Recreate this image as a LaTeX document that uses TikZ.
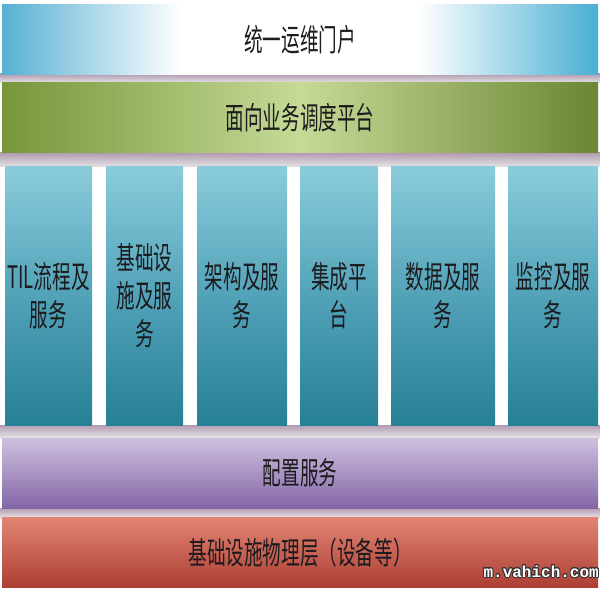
\documentclass[tikz,border=0pt]{standalone}
\usepackage{fontspec}
\usepackage{tikz}
\usetikzlibrary{shapes}
\usepackage{contour}
\setmainfont{Noto Sans CJK SC}[FakeStretch=0.6]
\newfontfamily\markfont{Liberation Mono}
\contourlength{0.9pt}
\definecolor{portL}{RGB}{86,176,210}
\definecolor{portR}{RGB}{72,174,210}
\definecolor{schedL}{RGB}{118,150,58}
\definecolor{schedM}{RGB}{198,218,150}
\definecolor{schedR}{RGB}{108,134,52}
\definecolor{colT}{RGB}{138,204,220}
\definecolor{colM}{RGB}{82,162,184}
\definecolor{colB}{RGB}{38,128,150}
\definecolor{confT}{RGB}{206,192,222}
\definecolor{confB}{RGB}{132,102,168}
\definecolor{physT}{RGB}{226,132,116}
\definecolor{physB}{RGB}{172,62,52}
\definecolor{txt}{RGB}{28,28,30}
\pgfdeclarehorizontalshading{portalshade}{100bp}{color(0bp)=(portL); color(25bp)=(portL); color(40bp)=(white); color(60bp)=(white); color(75bp)=(portR); color(100bp)=(portR)}
\tikzstyle{layer} = [rectangle, inner sep=0pt, minimum width=596pt, minimum height=70pt, text=txt, font=\fontsize{31}{38}\selectfont]
\tikzstyle{portal} = [layer, shading=portalshade]
\tikzstyle{sched} = [layer, left color=schedL, right color=schedR, middle color=schedM]
\tikzstyle{conf} = [layer, top color=confT, bottom color=confB]
\tikzstyle{phys} = [layer, top color=physT, bottom color=physB]
\tikzstyle{pillar} = [rectangle, inner sep=0pt, minimum height=258pt, align=center, text=txt, font=\fontsize{31}{38}\selectfont, top color=colT, bottom color=colB, middle color=colM]
\tikzstyle{gap} = [top color=gray!70!violet!60, bottom color=gray!20]

\begin{document}
\begin{tikzpicture}[x=1pt, y=1pt, node distance=79pt]
    \useasboundingbox (0,0) rectangle (600,590);
    \fill[white] (0,0) rectangle (600,590);
    % shadows between the layers
    \shade[gap] (0,507) rectangle (600,516);
    \shade[gap] (0,423) rectangle (600,437);
    \shade[gap] (0,152) rectangle (600,165);
    \shade[gap] (0,72) rectangle (600,82);

    \node (portal) [portal] at (300,550.5) {统一运维门户};
    \node (sched) [sched, below of=portal, yshift=0.5pt] {面向业务调度平台};

    \node (itil) [pillar, minimum width=87pt] at (48.5,294) {TIL流程及\\服务};
    \node (infra) [pillar, minimum width=77pt] at (144.5,294) {基础设\\施及服\\务};
    \node (arch) [pillar, minimum width=90pt] at (242,294) {架构及服\\务};
    \node (integ) [pillar, minimum width=78pt] at (339,294) {集成平\\台};
    \node (data) [pillar, minimum width=104pt] at (443,294) {数据及服\\务};
    \node (moni) [pillar, minimum width=90pt] at (553,294) {监控及服\\务};

    \node (phys) [phys] at (300,37.5) {基础设施物理层（设备等）};
    \node (conf) [conf, above of=phys, yshift=0.5pt] {配置服务};

    \node (mark) [anchor=east, inner sep=0pt, font=\markfont\bfseries\fontsize{16}{16}\selectfont] at (599,18) {\contour{black!80}{\textcolor{white}{m.vahich.com}}};
\end{tikzpicture}
\end{document}
